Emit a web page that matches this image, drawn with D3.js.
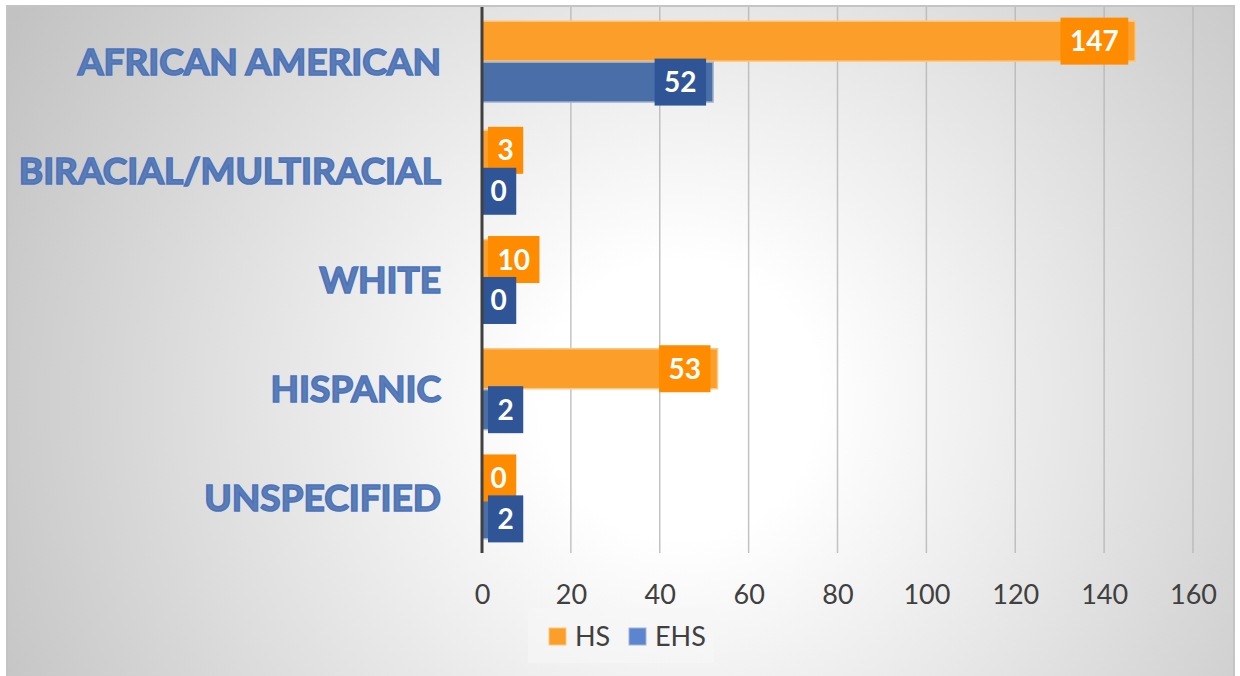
<html>
<script src="https://d3js.org/d3.v7.min.js"></script>
<style>
    body { margin: 0; background: #fff; }
    svg text { font-family: Lato, "Open Sans", sans-serif; }
</style>
<body>
<svg width="1240" height="676"></svg>
<script>
    // chart data
    var categories = ["AFRICAN AMERICAN", "BIRACIAL/MULTIRACIAL", "WHITE", "HISPANIC", "UNSPECIFIED"];
    var seriesNames = ["HS", "EHS"];
    var hsValues = [147, 3, 10, 53, 0];
    var ehsValues = [52, 0, 0, 2, 2];
    var tickValues = [0, 20, 40, 60, 80, 100, 120, 140, 160];

    var barColors = { HS: "#fb9f2a", EHS: "#4a6ea8" };
    var barEdges = { HS: "#fcc780", EHS: "#a3b4d2" };
    var labelColors = { HS: "#ff8c00", EHS: "#2f5597" };
    var legendColors = { HS: "#fb9f2a", EHS: "#5b86cf" };

    var svg = d3.select("svg");

    // background
    var defs = svg.append("defs");
    var grad = defs.append("radialGradient")
        .attr("id", "bg")
        .attr("gradientUnits", "userSpaceOnUse")
        .attr("cx", 680).attr("cy", 400).attr("r", 770);
    grad.append("stop").attr("offset", "0").attr("stop-color", "#ffffff");
    grad.append("stop").attr("offset", "0.18").attr("stop-color", "#ffffff");
    grad.append("stop").attr("offset", "1").attr("stop-color", "#c2c2c2");

    svg.append("rect")
        .attr("x", 7).attr("y", 6).attr("width", 1227).attr("height", 672)
        .attr("fill", "url(#bg)")
        .attr("stroke", "#c4c4c4").attr("stroke-width", 2);

    var x0 = 482, plotTop = 7, plotBottom = 553;

    var xs = d3.scaleLinear().domain([0, 160]).range([x0, 1193]);
    var ys = d3.scaleBand().domain(categories).range([plotTop, plotBottom])
        .paddingInner(0.25).paddingOuter(0.125);
    var ysub = d3.scaleBand().domain(seriesNames).range([0, ys.bandwidth()]);

    // gridlines
    svg.append("g")
        .selectAll("line").data(tickValues.slice(1)).enter().append("line")
        .attr("x1", function (d) { return xs(d); })
        .attr("x2", function (d) { return xs(d); })
        .attr("y1", plotTop).attr("y2", plotBottom)
        .attr("stroke", "#b4b4b4").attr("stroke-width", 1.5)
        .attr("stroke-opacity", 0.8);

    // x axis tick labels
    var xAxis = svg.append("g")
        .attr("transform", "translate(0," + plotBottom + ")")
        .call(d3.axisBottom(xs).tickValues(tickValues).tickSize(0).tickPadding(32));
    xAxis.select(".domain").remove();
    xAxis.selectAll("text")
        .attr("fill", "#404040")
        .style("font-size", "27px");

    var rows = [];
    categories.forEach(function (c, i) {
        rows.push({ cat: c, series: "HS", value: hsValues[i] });
        rows.push({ cat: c, series: "EHS", value: ehsValues[i] });
    });

    // bars
    svg.append("g")
        .selectAll("rect").data(rows).enter().append("rect")
        .attr("x", x0)
        .attr("y", function (d) { return ys(d.cat) + ysub(d.series) + 0.5; })
        .attr("width", function (d) { return xs(d.value) - x0; })
        .attr("height", ysub.bandwidth() - 1)
        .attr("fill", function (d) { return barColors[d.series]; })
        .attr("stroke", function (d) { return barEdges[d.series]; })
        .attr("stroke-width", 1.5);

    // category labels
    svg.append("g")
        .selectAll("text").data(categories).enter().append("text")
        .attr("x", 441)
        .attr("y", function (d) { return ys(d) + ys.bandwidth() / 2 + 13; })
        .attr("text-anchor", "end")
        .attr("fill", "#5d7cb0")
        .attr("stroke", "#4a74c0")
        .attr("stroke-width", 1.7)
        .style("font-size", "37px")
        .style("font-weight", "bold")
        .text(function (d) { return d; });

    // data labels
    var lab = svg.append("g")
        .selectAll("g").data(rows).enter().append("g");
    lab.append("text")
        .attr("fill", "#ffffff")
        .style("font-size", "28px")
        .style("font-weight", "bold")
        .attr("text-anchor", "middle")
        .text(function (d) { return d.value; });
    lab.each(function (d) {
        var g = d3.select(this);
        var tw = g.select("text").node().getComputedTextLength();
        var w = tw + 19, h = 47;
        var end = xs(d.value);
        var left = Math.max(end - 7 - w, Math.min(end, x0 + 7) - 1);
        var cy = ys(d.cat) + ysub(d.series) + ysub.bandwidth() / 2;
        g.insert("rect", "text")
            .attr("x", left).attr("y", cy - h / 2)
            .attr("width", w).attr("height", h)
            .attr("fill", labelColors[d.series]);
        g.select("text").attr("x", left + w / 2).attr("y", cy + 10);
    });

    // zero axis line
    svg.append("line")
        .attr("x1", x0).attr("x2", x0)
        .attr("y1", plotTop).attr("y2", plotBottom)
        .attr("stroke", "#404040").attr("stroke-width", 3);

    // legend
    var legend = svg.append("g");
    legend.append("rect")
        .attr("x", 528).attr("y", 608).attr("width", 186).attr("height", 55)
        .attr("fill", "#f7f7f7").attr("fill-opacity", 0.6);
    var legendX = { HS: 549, EHS: 629 };
    var item = legend.selectAll("g").data(seriesNames).enter().append("g")
        .attr("transform", function (d) { return "translate(" + legendX[d] + ",628)"; });
    item.append("rect")
        .attr("width", 17).attr("height", 17)
        .attr("fill", function (d) { return legendColors[d]; })
        .attr("stroke", function (d) { return barEdges[d]; });
    item.append("text")
        .attr("x", 26).attr("y", 18)
        .attr("fill", "#404040")
        .style("font-size", "27px")
        .text(function (d) { return d; });
</script>
</body>
</html>
